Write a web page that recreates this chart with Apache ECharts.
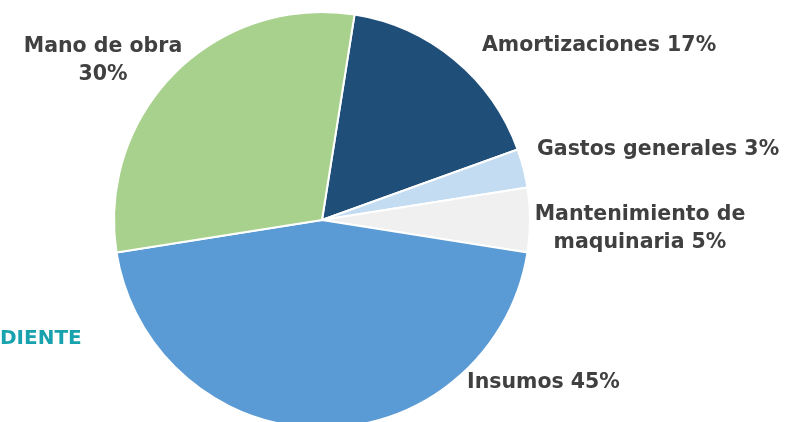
<!DOCTYPE html>
<html><head><meta charset="utf-8">
<script src="https://cdn.jsdelivr.net/npm/echarts@6/dist/echarts.min.js"></script>
<style>html,body{margin:0;padding:0;background:#fff}#c{width:785px;height:422px}</style>
</head><body><div id="c"></div>
<script>
const categories = ['Amortizaciones', 'Gastos generales', 'Mantenimiento de\nmaquinaria', 'Insumos', 'Mano de obra'];
const values = [17, 3, 5, 45, 30];
const labelTexts = ['Amortizaciones 17%', 'Gastos generales 3%', 'Mantenimiento de\nmaquinaria 5%', 'Insumos 45%', 'Mano de obra\n30%'];
const colors = ['#1F4E79', '#C3DCF1', '#F0F0F0', '#5B9BD5', '#A9D18E'];
const labelPos = [
  {x: 482, y: 46, align: 'left'},
  {x: 537, y: 150, align: 'left'},
  {x: 640, y: 229, align: 'center'},
  {x: 467, y: 383, align: 'left'},
  {x: 103, y: 61, align: 'center'}
];
const chart = echarts.init(document.getElementById('c'), null, {renderer: 'canvas'});
chart.setOption({
  animation: false,
  graphic: [{
    type: 'text', left: 0, top: 329,
    style: {text: 'DIENTE', fill: '#17A2AE', font: 'bold 20px "DejaVu Sans"'}
  }],
  series: [{
    type: 'pie',
    center: [322, 220],
    radius: 208,
    startAngle: 81,
    clockwise: true,
    itemStyle: {borderColor: '#fff', borderWidth: 2},
    label: {
      show: true,
      position: 'outside',
      overflow: 'none',
      formatter: p => labelTexts[p.dataIndex],
      color: '#404040',
      fontFamily: 'DejaVu Sans',
      fontWeight: 'bold',
      fontSize: 20.5,
      lineHeight: 28,
      align: 'center'
    },
    labelLine: {show: false},
    labelLayout: p => ({
      x: labelPos[p.dataIndex].x,
      y: labelPos[p.dataIndex].y,
      align: labelPos[p.dataIndex].align,
      verticalAlign: 'middle'
    }),
    data: categories.map((c, i) => ({name: c, value: values[i], itemStyle: {color: colors[i]}}))
  }]
});
</script></body></html>
